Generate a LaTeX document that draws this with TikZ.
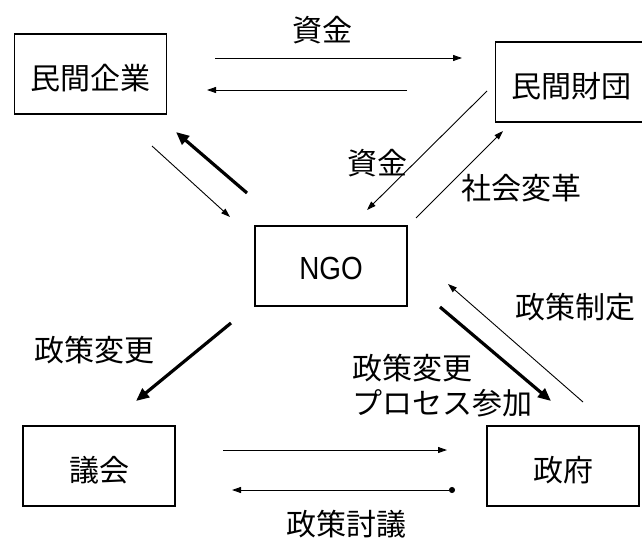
\documentclass[tikz,border=0pt]{standalone}
\usepackage{fontspec}
\setmainfont{Liberation Sans}
\newfontfamily\jp{Noto Sans CJK JP}
\usetikzlibrary{arrows.meta}
\begin{document}
\begin{tikzpicture}[x=1pt,y=-1pt,
  box/.style={draw,line width=1.3pt,minimum width=152pt,minimum height=80pt,inner sep=0pt},
  lbl/.style={font=\jp\fontsize{30}{35}\selectfont,inner sep=0pt},
  boxtext/.style={text height=31pt,text depth=0pt},
  thinarrow/.style={line width=0.9pt,-{Triangle[length=9pt,width=6pt]}},
  thickarrow/.style={line width=3.2pt,-{Triangle[length=13pt,width=11pt]}},
  dotarrow/.style={line width=0.9pt,{Circle[length=6pt]}-{Triangle[length=9pt,width=6pt]}}]
\useasboundingbox (0,0) rectangle (642,541);
% boxes
\node[box,lbl,boxtext] (kigyo) at (90.5,74) {民間企業};
\node[box,lbl,boxtext] (zaidan) at (571.5,82) {民間財団};
\node[box,text height=26pt,text depth=0pt] (ngo) at (331,266) {\fontsize{32}{36}\selectfont\scalebox{0.87}[1]{NGO}};
\node[box,lbl,boxtext] (gikai) at (99,466) {議会};
\node[box,lbl,boxtext] (seifu) at (563,466) {政府};
% connector end points
\coordinate (p1s) at (215,58);  \coordinate (p1e) at (462,58);
\coordinate (p2s) at (407,90);  \coordinate (p2e) at (207,90);
\coordinate (p3s) at (152,146); \coordinate (p3e) at (230,217);
\coordinate (p4s) at (247,193); \coordinate (p4e) at (176,132);
\coordinate (p5s) at (487,91);  \coordinate (p5e) at (367,210);
\coordinate (p6s) at (416,218); \coordinate (p6e) at (503,131);
\coordinate (p7s) at (231,323); \coordinate (p7e) at (136,401);
\coordinate (p8s) at (440,307); \coordinate (p8e) at (551,401);
\coordinate (p9s) at (583,402); \coordinate (p9e) at (448,284);
\coordinate (p10s) at (223,450); \coordinate (p10e) at (447,450);
\coordinate (p11s) at (455,490); \coordinate (p11e) at (232,490);
% connectors
\draw[thinarrow] (p1s) -- (p1e);
\draw[thinarrow] (p2s) -- (p2e);
\draw[thinarrow] (p3s) -- (p3e);
\draw[thickarrow] (p4s) -- (p4e);
\draw[thinarrow] (p5s) -- (p5e);
\draw[thinarrow] (p6s) -- (p6e);
\draw[thickarrow] (p7s) -- (p7e);
\draw[thickarrow] (p8s) -- (p8e);
\draw[thinarrow] (p9s) -- (p9e);
\draw[thinarrow] (p10s) -- (p10e);
\draw[dotarrow] (p11s) -- (p11e);
% labels
\node[lbl] (l1) at (322,30) {資金};
\node[lbl] (l2) at (377,163) {資金};
\node[lbl] (l3) at (521,188) {社会変革};
\node[lbl] (l4) at (94,350) {政策変更};
\node[lbl,align=left,anchor=west] (l5) at (352,386) {政策変更\\プロセス参加};
\node[lbl] (l6) at (575,307) {政策制定};
\node[lbl] (l7) at (346,524) {政策討議};
\end{tikzpicture}
\end{document}
